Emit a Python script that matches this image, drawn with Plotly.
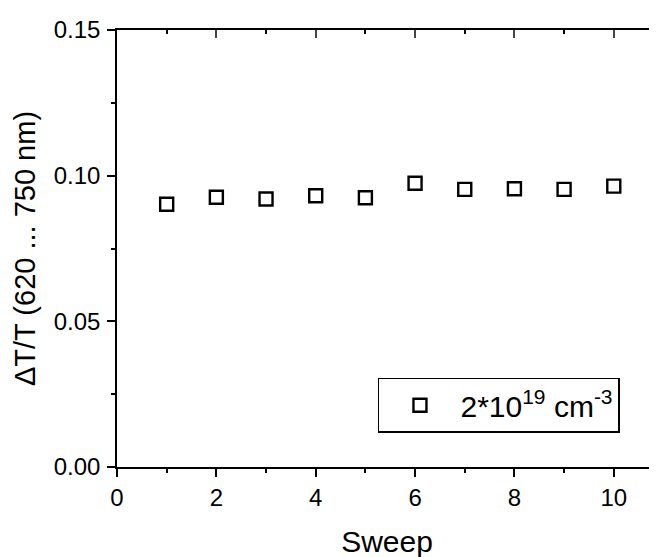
import plotly.graph_objects as go

sweep = [1, 2, 3, 4, 5, 6, 7, 8, 9, 10]
dT_T = [0.0902, 0.0926, 0.0920, 0.0931, 0.0924, 0.0974, 0.0953, 0.0955, 0.0953, 0.0964]
series_name = "2*10<sup>19</sup> cm<sup>-3</sup>"
x_title = "Sweep"
y_title = "\u0394T/T (620 ... 750 nm)"
x_range = [0, 10.87]
y_range = [0, 0.15]

FONT = "Arial, Liberation Sans, sans-serif"

# page body adds an 8px offset; compensate in margins
L, T, B, R = 108.5, 22, 98, 8
W, H = 657, 557
plot_w = W - L - R
plot_h = H - T - B

fig = go.Figure()
fig.add_trace(go.Scatter(
    x=sweep, y=dT_T, mode="markers", name=series_name,
    marker=dict(symbol="square-open", size=13, color="black", line=dict(width=2.4, color="black")),
))
# invisible trace to activate mirrored axes (top / right) with inward ticks
fig.add_trace(go.Scatter(
    x=sweep, y=dT_T, mode="markers", xaxis="x2", yaxis="y2",
    marker=dict(opacity=0), showlegend=False, hoverinfo="skip",
))

axis_common = dict(showgrid=False, zeroline=False, color="black",
                   tickfont=dict(family=FONT, size=24, color="black"))

fig.update_layout(
    width=W, height=H,
    margin=dict(l=L, r=R, t=T, b=B),
    paper_bgcolor="white", plot_bgcolor="white",
    font=dict(family=FONT, color="black"),
    showlegend=True,
    xaxis=dict(range=x_range, dtick=2, tick0=0, ticks="outside", ticklen=8, tickwidth=1.5,
               showline=True, linewidth=1.5, linecolor="black",
               minor=dict(dtick=1, ticks="outside", ticklen=4, tickwidth=1.5, tickcolor="black"),
               title=dict(text=x_title, font=dict(family=FONT, size=30), standoff=21),
               **axis_common),
    yaxis=dict(range=y_range, dtick=0.05, tick0=0, tickformat=".2f", ticks="outside", ticklen=8,
               tickwidth=1.5, showline=True, linewidth=1.5, linecolor="black", ticklabelstandoff=2,
               minor=dict(dtick=0.025, ticks="outside", ticklen=4, tickwidth=1.5, tickcolor="black"),
               title=dict(text=y_title, font=dict(family=FONT, size=29), standoff=10),
               **axis_common),
    xaxis2=dict(range=x_range, overlaying="x", side="top", anchor="y2", dtick=2, tick0=0,
                ticks="inside", ticklen=8, tickwidth=1.5, showticklabels=False,
                showline=True, linewidth=1.5, linecolor="black",
                minor=dict(dtick=1, ticks="inside", ticklen=4, tickwidth=1.5, tickcolor="black"),
                showgrid=False, zeroline=False),
    yaxis2=dict(range=y_range, overlaying="y", side="right", anchor="x2", dtick=0.05, tick0=0,
                ticks="inside", ticklen=6, tickwidth=1.5, showticklabels=False, showline=False,
                minor=dict(dtick=0.025, ticks="inside", ticklen=3, tickwidth=1, tickcolor="#999999"),
                showgrid=False, zeroline=False),
    legend=dict(x=(377.7 - 8 - L) / plot_w, y=1 - (377.7 - 8 - T) / plot_h,
                xanchor="left", yanchor="top",
                bordercolor="black", borderwidth=1.5, bgcolor="white",
                font=dict(family=FONT, size=30, color="black"), itemwidth=71),
)

fig.write_html("out.html")
